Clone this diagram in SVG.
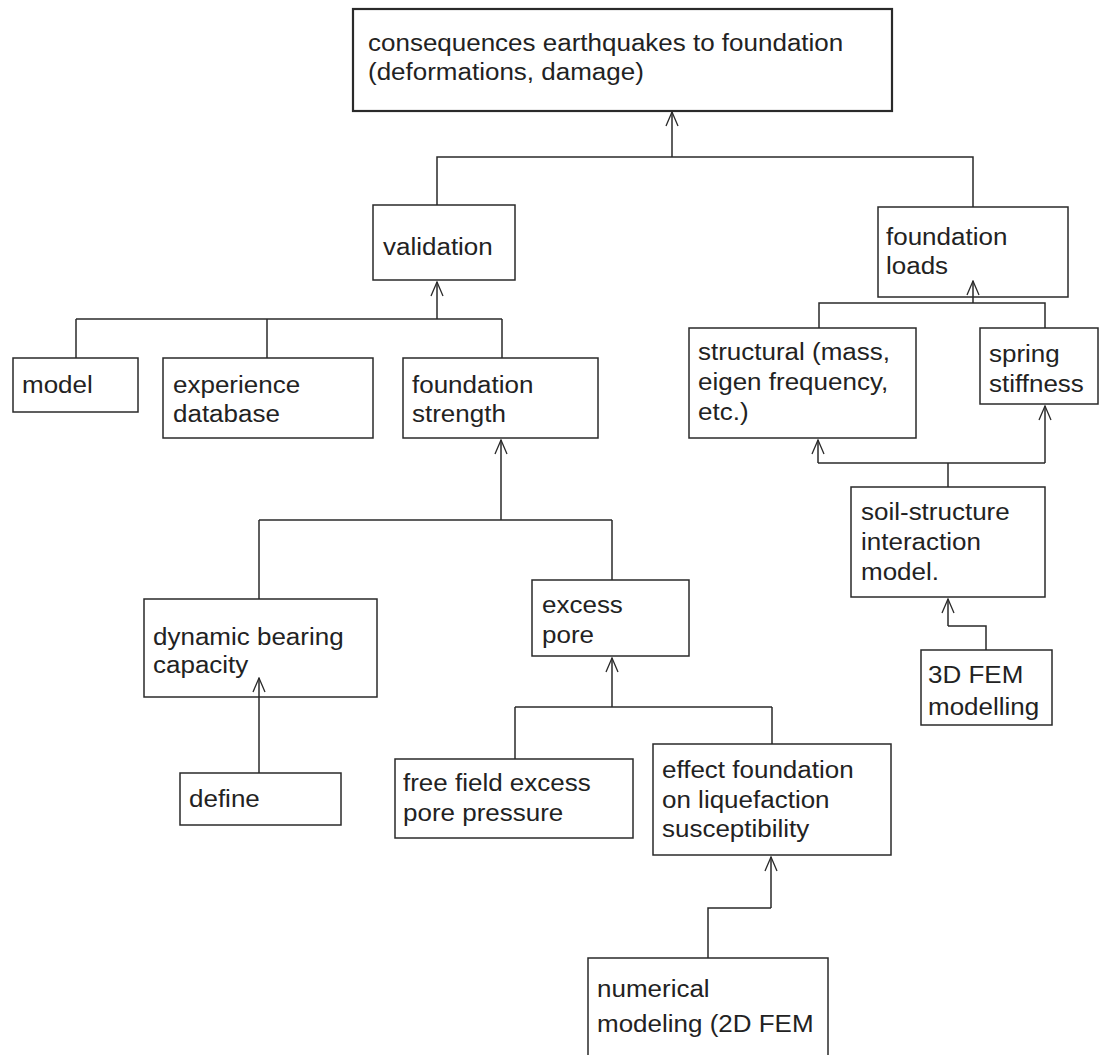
<svg xmlns="http://www.w3.org/2000/svg" width="1106" height="1055" viewBox="0 0 1106 1055">
  <style>
    .box { fill: none; stroke: #2a2a2a; stroke-width: 1.5; }
    .main { stroke-width: 2.2; }
    .lbl { font-family: "Liberation Sans", Arial, sans-serif; font-size: 23px; fill: #222222; }
    .con { fill: none; stroke: #2a2a2a; stroke-width: 1.5; }
  </style>
  <defs>
    <marker id="arr" viewBox="0 0 16 14" refX="15" refY="7" markerWidth="16" markerHeight="14" markerUnits="userSpaceOnUse" orient="auto">
      <polyline points="1,1 15,7 1,13" fill="none" stroke="#2a2a2a" stroke-width="1.3"/>
    </marker>
  </defs>
  <rect x="0" y="0" width="1106" height="1055" fill="#ffffff"/>

  <g id="connectors">
    <polyline class="con" points="437,205 437,157 973,157 973,207"/>
    <line class="con" x1="672" y1="157" x2="672" y2="112" marker-end="url(#arr)"/>
    <line class="con" x1="76" y1="319" x2="502" y2="319"/>
    <line class="con" x1="76" y1="319" x2="76" y2="358"/>
    <line class="con" x1="267" y1="319" x2="267" y2="358"/>
    <line class="con" x1="502" y1="319" x2="502" y2="358"/>
    <line class="con" x1="437" y1="319" x2="437" y2="282" marker-end="url(#arr)"/>
    <polyline class="con" points="819,328 819,303 1045,303 1045,328"/>
    <line class="con" x1="973" y1="303" x2="973" y2="281" marker-end="url(#arr)"/>
    <line class="con" x1="818" y1="463" x2="1045" y2="463"/>
    <line class="con" x1="948" y1="487" x2="948" y2="463"/>
    <line class="con" x1="818" y1="463" x2="818" y2="440" marker-end="url(#arr)"/>
    <line class="con" x1="1045" y1="463" x2="1045" y2="406" marker-end="url(#arr)"/>
    <polyline class="con" points="986,650 986,626 948,626"/>
    <line class="con" x1="948" y1="626" x2="948" y2="599" marker-end="url(#arr)"/>
    <line class="con" x1="259" y1="520" x2="612" y2="520"/>
    <line class="con" x1="259" y1="520" x2="259" y2="599"/>
    <line class="con" x1="612" y1="520" x2="612" y2="580"/>
    <line class="con" x1="501" y1="520" x2="501" y2="440" marker-end="url(#arr)"/>
    <line class="con" x1="259" y1="773" x2="259" y2="678" marker-end="url(#arr)"/>
    <line class="con" x1="515" y1="707" x2="772" y2="707"/>
    <line class="con" x1="515" y1="707" x2="515" y2="759"/>
    <line class="con" x1="772" y1="707" x2="772" y2="744"/>
    <line class="con" x1="612" y1="707" x2="612" y2="658" marker-end="url(#arr)"/>
    <polyline class="con" points="708,958 708,908 771,908"/>
    <line class="con" x1="771" y1="908" x2="771" y2="857" marker-end="url(#arr)"/>
  </g>

  <g id="n-consequences">
    <rect class="box main" x="353" y="9" width="539" height="102"/>
    <text class="lbl" transform="translate(368,51) scale(1.13 1)"><tspan x="0" y="0">consequences earthquakes to foundation</tspan><tspan x="0" y="29">(deformations, damage)</tspan></text>
  </g>
  <g id="n-validation">
    <rect class="box" x="373" y="205" width="142" height="75"/>
    <text class="lbl" transform="translate(383,255) scale(1.13 1)">validation</text>
  </g>
  <g id="n-foundation-loads">
    <rect class="box" x="878" y="207" width="190" height="90"/>
    <text class="lbl" transform="translate(886,245) scale(1.13 1)"><tspan x="0" y="0">foundation</tspan><tspan x="0" y="29">loads</tspan></text>
  </g>
  <g id="n-model">
    <rect class="box" x="13" y="358" width="125" height="54"/>
    <text class="lbl" transform="translate(22,393) scale(1.13 1)">model</text>
  </g>
  <g id="n-experience">
    <rect class="box" x="163" y="358" width="210" height="80"/>
    <text class="lbl" transform="translate(173,393) scale(1.13 1)"><tspan x="0" y="0">experience</tspan><tspan x="0" y="29">database</tspan></text>
  </g>
  <g id="n-foundation-strength">
    <rect class="box" x="403" y="358" width="195" height="80"/>
    <text class="lbl" transform="translate(412,393) scale(1.13 1)"><tspan x="0" y="0">foundation</tspan><tspan x="0" y="29">strength</tspan></text>
  </g>
  <g id="n-structural">
    <rect class="box" x="689" y="328" width="227" height="110"/>
    <text class="lbl" transform="translate(698,360) scale(1.13 1)"><tspan x="0" y="0">structural (mass,</tspan><tspan x="0" y="30">eigen frequency,</tspan><tspan x="0" y="60">etc.)</tspan></text>
  </g>
  <g id="n-spring">
    <rect class="box" x="980" y="328" width="118" height="76"/>
    <text class="lbl" transform="translate(989,362) scale(1.13 1)"><tspan x="0" y="0">spring</tspan><tspan x="0" y="30">stiffness</tspan></text>
  </g>
  <g id="n-soil-structure">
    <rect class="box" x="851" y="487" width="194" height="110"/>
    <text class="lbl" transform="translate(861,520) scale(1.13 1)"><tspan x="0" y="0">soil-structure</tspan><tspan x="0" y="30">interaction</tspan><tspan x="0" y="60">model.</tspan></text>
  </g>
  <g id="n-3d-fem">
    <rect class="box" x="921" y="650" width="131" height="75"/>
    <text class="lbl" transform="translate(928,683) scale(1.13 1)"><tspan x="0" y="0">3D FEM</tspan><tspan x="0" y="32">modelling</tspan></text>
  </g>
  <g id="n-dynamic-bearing">
    <rect class="box" x="144" y="599" width="233" height="98"/>
    <text class="lbl" transform="translate(153,645) scale(1.13 1)"><tspan x="0" y="0">dynamic bearing</tspan><tspan x="0" y="28">capacity</tspan></text>
  </g>
  <g id="n-excess-pore">
    <rect class="box" x="532" y="580" width="157" height="76"/>
    <text class="lbl" transform="translate(542,613) scale(1.13 1)"><tspan x="0" y="0">excess</tspan><tspan x="0" y="30">pore</tspan></text>
  </g>
  <g id="n-define">
    <rect class="box" x="180" y="773" width="161" height="52"/>
    <text class="lbl" transform="translate(189,807) scale(1.13 1)">define</text>
  </g>
  <g id="n-free-field">
    <rect class="box" x="395" y="759" width="238" height="79"/>
    <text class="lbl" transform="translate(403,791) scale(1.13 1)"><tspan x="0" y="0">free field excess</tspan><tspan x="0" y="30">pore pressure</tspan></text>
  </g>
  <g id="n-effect-foundation">
    <rect class="box" x="653" y="744" width="238" height="111"/>
    <text class="lbl" transform="translate(662,778) scale(1.13 1)"><tspan x="0" y="0">effect foundation</tspan><tspan x="0" y="30">on liquefaction</tspan><tspan x="0" y="59">susceptibility</tspan></text>
  </g>
  <g id="n-numerical">
    <rect class="box" x="588" y="958" width="240" height="110"/>
    <text class="lbl" transform="translate(597,997) scale(1.13 1)"><tspan x="0" y="0">numerical</tspan><tspan x="0" y="35">modeling (2D FEM</tspan></text>
  </g>
</svg>
